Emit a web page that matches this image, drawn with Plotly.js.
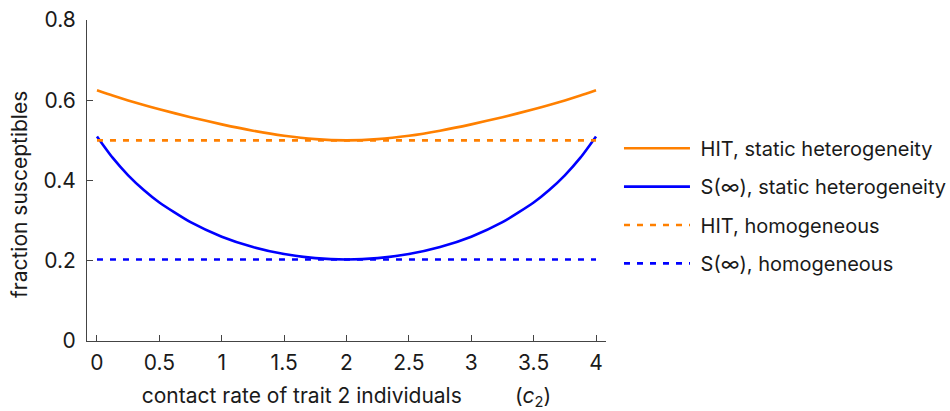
<!DOCTYPE html>
<html>
<head>
<meta charset="utf-8">
<script src="https://cdn.plot.ly/plotly-3.0.1.min.js"></script>
<style>
html, body { margin: 0; padding: 0; background: #fff; }
#chart { width: 950px; height: 411px; }
</style>
</head>
<body>
<div id="chart"></div>
<script>
// contact rate of trait 2 individuals (c2)
const c2 = [0, 0.125, 0.25, 0.375, 0.5, 0.75, 1, 1.25, 1.5, 1.75, 2, 2.25, 2.5, 2.75, 3, 3.25, 3.5, 3.625, 3.75, 3.875, 4];
// HIT, static heterogeneity
const hitStatic = [0.625, 0.6118, 0.5995, 0.5882, 0.5775, 0.5577, 0.5399, 0.5241, 0.5114, 0.5030, 0.5, 0.5030, 0.5114, 0.5241, 0.5399, 0.5577, 0.5775, 0.5882, 0.5995, 0.6118, 0.625];
// S(inf), static heterogeneity
const sInfStatic = [0.5099, 0.4569, 0.4130, 0.3763, 0.3452, 0.2960, 0.2600, 0.2342, 0.2167, 0.2065, 0.2032, 0.2065, 0.2167, 0.2342, 0.2600, 0.2960, 0.3452, 0.3763, 0.4130, 0.4569, 0.5099];
// homogeneous references
const homX = [0, 4];
const hitHom = [0.5, 0.5];
const sInfHom = [0.2032, 0.2032];

const names = ["HIT, static heterogeneity", "S(\u221e), static heterogeneity", "HIT, homogeneous", "S(\u221e), homogeneous"];
const xTickVals = [0, 0.5, 1, 1.5, 2, 2.5, 3, 3.5, 4];
const yTickVals = [0, 0.2, 0.4, 0.6, 0.8];
const xTitle = "contact rate of trait 2 individuals\u00a0\u00a0\u00a0\u00a0\u00a0\u00a0\u00a0\u00a0 (<i>c</i><sub>2</sub>)";
const yTitle = "fraction susceptibles";

const ORANGE = "#ff8000";
const BLUE = "#0000ff";
const FONT = "Inter, 'Liberation Sans', Arial, sans-serif";
const TXT = "#1a1a1a";

const traces = [
  {x: c2, y: hitStatic, name: "\u00a0" + names[0], legendgroup: "a", mode: "lines",
   line: {color: ORANGE, width: 2.6, shape: "spline", smoothing: 0.6}},
  {x: c2, y: sInfStatic, name: "\u00a0" + names[1], legendgroup: "b", mode: "lines",
   line: {color: BLUE, width: 2.6, shape: "spline", smoothing: 0.6}},
  {x: homX, y: hitHom, name: "\u00a0" + names[2], legendgroup: "c", mode: "lines",
   line: {color: ORANGE, width: 2.6, dash: "6px,7px"}},
  {x: homX, y: sInfHom, name: "\u00a0" + names[3], legendgroup: "d", mode: "lines",
   line: {color: BLUE, width: 2.6, dash: "6px,7px"}}
];

const layout = {
  width: 950, height: 411,
  margin: {l: 87, r: 344, t: 20, b: 70, autoexpand: false},
  paper_bgcolor: "#fff", plot_bgcolor: "#fff",
  font: {family: FONT, color: TXT, size: 20},
  showlegend: true,
  legend: {
    x: 1.025, xanchor: "left", y: 0.42, yanchor: "middle",
    font: {family: FONT, size: 20, color: TXT},
    itemwidth: 66, tracegroupgap: 9.4, traceorder: "grouped",
    bgcolor: "rgba(0,0,0,0)", borderwidth: 0
  },
  xaxis: {
    range: [-0.08, 4.08], tickvals: xTickVals, ticktext: xTickVals.map(String),
    ticks: "inside", ticklen: 6, tickwidth: 1, tickcolor: "#444",
    showline: true, linecolor: "#444", linewidth: 1,
    showgrid: false, zeroline: false,
    tickfont: {family: FONT, size: 21, color: TXT},
    ticklabelstandoff: 3,
    title: {text: xTitle, font: {family: FONT, size: 21, color: TXT}, standoff: 37}
  },
  yaxis: {
    range: [0, 0.8], tickvals: yTickVals, ticktext: yTickVals.map(String),
    ticks: "inside", ticklen: 6, tickwidth: 1, tickcolor: "#444",
    showline: true, linecolor: "#444", linewidth: 1,
    showgrid: false, zeroline: false,
    tickfont: {family: FONT, size: 21, color: TXT},
    ticklabelstandoff: 6
  },
  annotations: [{
    text: yTitle, textangle: -90, xref: "paper", yref: "paper",
    x: -0.129, y: 0.455, xanchor: "center", yanchor: "middle", showarrow: false,
    font: {family: FONT, size: 21, color: TXT}
  }]
};

Plotly.newPlot("chart", traces, layout, {displayModeBar: false, staticPlot: true});
</script>
</body>
</html>
